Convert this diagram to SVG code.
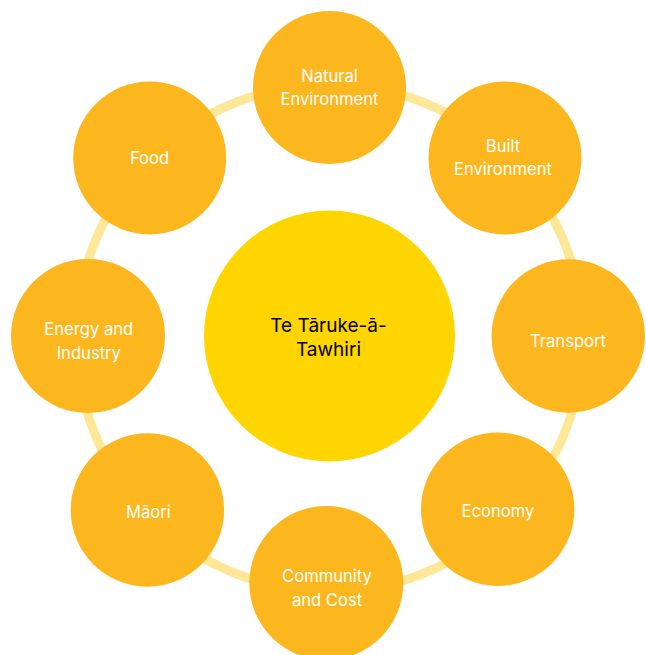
<svg xmlns="http://www.w3.org/2000/svg" width="646" height="655" viewBox="0 0 646 655">
<style>
.n{fill:#FDB71E}
.t{fill:#FFFFFF;font-family:Inter,"Liberation Sans",sans-serif;font-size:16.6px;text-anchor:middle}
.c{fill:#000000;font-family:Inter,"Liberation Sans",sans-serif;font-size:19px;text-anchor:middle}
</style>
<rect width="646" height="655" fill="#FFFFFF"/>
<g id="connectors">
<circle cx="329.5" cy="338" r="253.5" fill="none" stroke="#FEE796" stroke-width="9"/>
</g>
<g id="center">
<circle cx="329.5" cy="336" r="125.5" fill="#FFD500"/>
<text class="c" x="328.5" y="331.7">Te Tāruke-ā-</text>
<text class="c" x="328.5" y="356">Tawhiri</text>
</g>
<g id="natural-environment">
<circle class="n" cx="329.5" cy="87.5" r="76.5"/>
<text class="t" x="329.5" y="81.7">Natural</text>
<text class="t" x="329.5" y="105">Environment</text>
</g>
<g id="built-environment">
<circle class="n" cx="505" cy="158" r="76.5"/>
<text class="t" x="503" y="151.7">Built</text>
<text class="t" x="503" y="175">Environment</text>
</g>
<g id="transport">
<circle class="n" cx="568.3" cy="336" r="76.7"/>
<text class="t" x="568" y="346.7">Transport</text>
</g>
<g id="economy">
<circle class="n" cx="497.7" cy="509.2" r="76.7"/>
<text class="t" x="498" y="516.8">Economy</text>
</g>
<g id="community-and-cost">
<circle class="n" cx="326.3" cy="583" r="77"/>
<text class="t" x="327" y="582.3">Community</text>
<text class="t" x="327" y="606">and Cost</text>
</g>
<g id="maori">
<circle class="n" cx="147.4" cy="510" r="76.7"/>
<text class="t" x="148.4" y="517.5">Māori</text>
</g>
<g id="energy-and-industry">
<circle class="n" cx="88" cy="336" r="77"/>
<text class="t" x="88.8" y="335">Energy and</text>
<text class="t" x="88.8" y="359">Industry</text>
</g>
<g id="food">
<circle class="n" cx="149.7" cy="158" r="76.5"/>
<text class="t" x="149.5" y="164">Food</text>
</g>
</svg>
